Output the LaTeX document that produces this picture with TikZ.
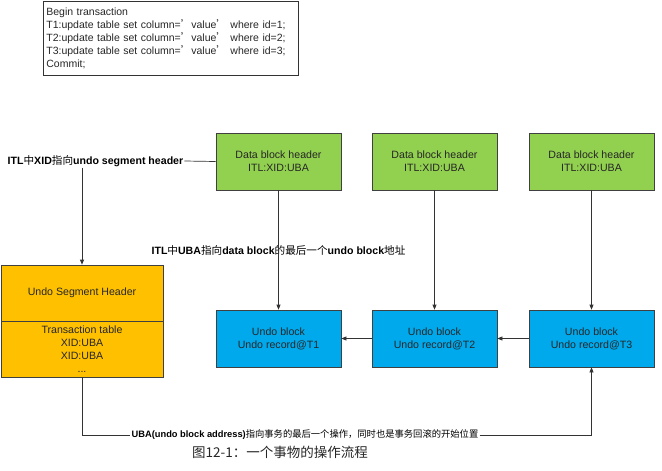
\documentclass[tikz,border=0pt]{standalone}
\usepackage{fontspec}
\setmainfont{Liberation Sans}
\newfontfamily\cjk{Noto Sans CJK SC}
\usetikzlibrary{arrows.meta}
\definecolor{grn}{HTML}{92D050}
\definecolor{blu}{HTML}{00A9EC}
\definecolor{org}{HTML}{FFC000}
\newcommand\zh[1]{{\cjk\mdseries #1}}
\newcommand\q{{\cjk ’}}
\begin{document}
\begin{tikzpicture}[x=1pt,y=-1pt,
 box/.style={draw=black!75, line width=0.7pt, minimum width=125pt, minimum height=57pt, inner sep=0pt, align=center, font=\fontsize{10.6}{13}\selectfont, text=black!85},
 greenbox/.style={box, fill=grn},
 bluebox/.style={box, fill=blu},
 segbox/.style={box, fill=org, minimum width=162pt, minimum height=56pt},
 lbl/.style={inner sep=1pt, font=\fontsize{10.6}{12}\selectfont\bfseries},
 conn/.style={draw=black!80, line width=0.7pt},
 arr/.style={conn, -{Triangle[length=5pt,width=4pt]}}
]
\useasboundingbox (0,0) rectangle (662,471);
% code box
\node[draw=black!80, line width=0.7pt, anchor=north west, minimum width=255pt, minimum height=74pt,
      text width=249pt, inner sep=3pt, align=left, font=\fontsize{10.5}{13}\selectfont, text=black!85]
  (code) at (43,1) {Begin transaction\\
T1:update table set column=\q value\q\ where id=1;\\
T2:update table set column=\q value\q\ where id=2;\\
T3:update table set column=\q value\q\ where id=3;\\
Commit;};
% data block headers
\node[greenbox] (g1) at (278.5,161.5) {Data block header\\ITL:XID:UBA};
\node[greenbox] (g2) at (434.5,161.5) {Data block header\\ITL:XID:UBA};
\node[greenbox] (g3) at (591.5,161.5) {Data block header\\ITL:XID:UBA};
% undo blocks
\node[bluebox] (u1) at (278.5,338.5) {Undo block\\Undo record@T1};
\node[bluebox] (u2) at (434.5,338.5) {Undo block\\Undo record@T2};
\node[bluebox] (u3) at (591.5,338.5) {Undo block\\Undo record@T3};
% undo segment header
\node[segbox] (seghead) at (82,293) {Undo Segment Header};
\node[segbox] (segtab) at (82,349) {Transaction table\\XID:UBA\\XID:UBA\\...};
% labels
\node[lbl] (l1) at (95.5,161) {ITL\zh{中}XID\zh{指向}undo segment header};
\node[lbl] (l2) at (278.5,250) {ITL\zh{中}UBA\zh{指向}data block\zh{的最后一个}undo block\zh{地址}};
\node[lbl, font=\fontsize{9.3}{11}\selectfont\bfseries] (l3) at (305,435) {UBA(undo block address)\zh{指向事务的最后一个操作，同时也是事务回滚的开始位置}};
\node[inner sep=0pt, font=\cjk\fontsize{13.5}{15}\selectfont, text=black!85] (cap) at (280,452) {图12-1：一个事物的操作流程};
% connectors
\draw[conn] (l1.east) -- (g1.west);
\draw[arr] (l1.south -| seghead.north) -- (seghead.north);
\draw[arr] (g1.south) -- (u1.north);
\draw[arr] (g2.south) -- (u2.north);
\draw[arr] (g3.south) -- (u3.north);
\draw[arr] (u2.west) -- (u1.east);
\draw[arr] (u3.west) -- (u2.east);
\draw[conn] (segtab.south) |- (l3.west);
\draw[arr] (l3.east) -| (u3.south);
\end{tikzpicture}
\end{document}
